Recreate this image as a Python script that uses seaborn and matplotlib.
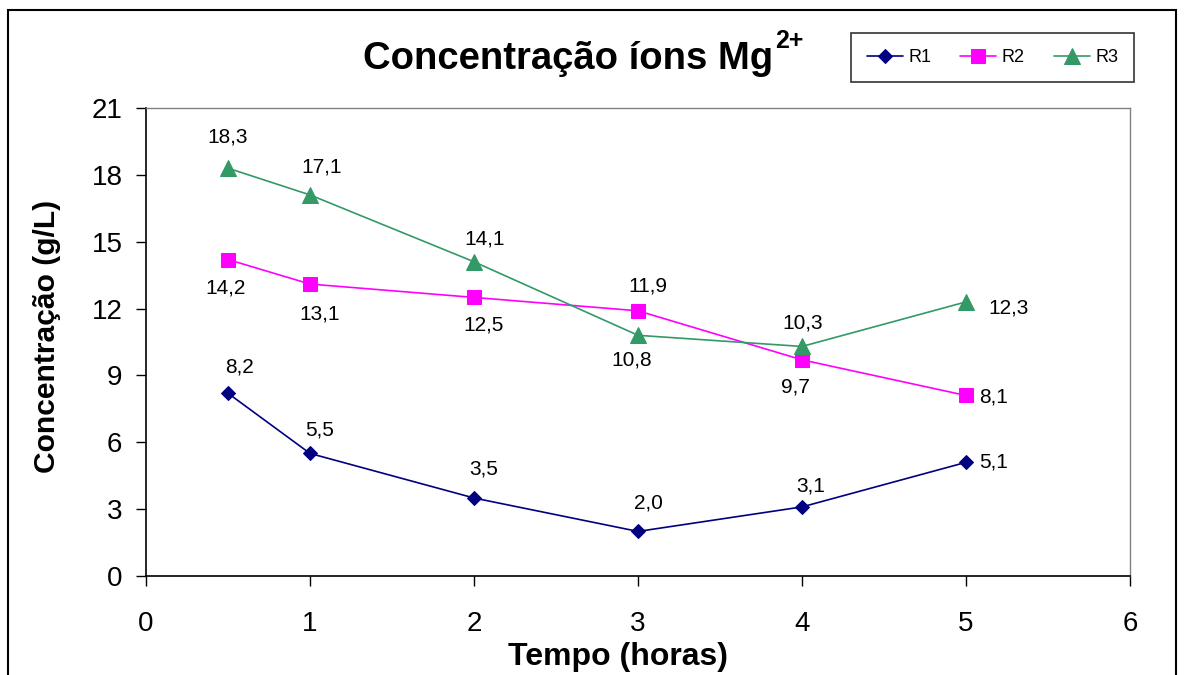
import matplotlib
matplotlib.use("Agg")
import matplotlib.pyplot as plt
import seaborn as sns
import pandas as pd
from matplotlib.patches import Rectangle

tempo = [0.5, 1, 2, 3, 4, 5]
r1 = [8.2, 5.5, 3.5, 2.0, 3.1, 5.1]
r2 = [14.2, 13.1, 12.5, 11.9, 9.7, 8.1]
r3 = [18.3, 17.1, 14.1, 10.8, 10.3, 12.3]
series_names = ["R1", "R2", "R3"]

sns.set_theme(style="white")
plt.rcParams['font.family'] = ['Liberation Sans', 'DejaVu Sans']
plt.rcParams['text.color'] = 'black'
plt.rcParams['axes.labelcolor'] = 'black'
plt.rcParams['xtick.color'] = 'black'
plt.rcParams['ytick.color'] = 'black'

fig = plt.figure(figsize=(11.86, 6.75), dpi=100)
ax = fig.add_axes([146/1186, 1-576/675, (1130-146)/1186, (576-108)/675])

df = pd.DataFrame({"Tempo": tempo * 3,
                   "Conc": r1 + r2 + r3,
                   "Serie": sum([[n]*len(tempo) for n in series_names], [])})

colors = {"R1": "#000080", "R2": "#FF00FF", "R3": "#339966"}
markers = {"R1": "D", "R2": "s", "R3": "^"}
msize = {"R1": 7, "R2": 10, "R3": 11}
for n in series_names:
    sub = df[df.Serie == n]
    sns.lineplot(data=sub, x="Tempo", y="Conc", ax=ax, color=colors[n], marker=markers[n],
                 markersize=msize[n], markeredgecolor=colors[n], linewidth=1.2, label=n)

# label offsets in pixels
offs = {
    "R1": [(12, 26), (10, 23), (10, 29), (10, 28), (9, 21), (28, 0)],
    "R2": [(-2, -28), (10, -30), (10, -28), (10, 25), (-7, -27), (28, -2)],
    "R3": [(0, 31), (12, 28), (11, 23), (-6, -25), (1, 23), (43, -6)],
}
vals = {"R1": r1, "R2": r2, "R3": r3}
for n in series_names:
    for x, y, (dx, dy) in zip(tempo, vals[n], offs[n]):
        ax.annotate(f"{y:.1f}".replace(".", ","), (x, y), xytext=(dx, dy),
                    textcoords="offset pixels", ha="center", va="center", fontsize=15, color="black")

ax.set_xlim(0, 6)
ax.set_ylim(0, 21)
ax.set_xticks(range(0, 7))
ax.set_yticks(range(0, 22, 3))
ax.tick_params(axis="both", labelsize=20, length=7, width=1, color="black", direction="out",
               bottom=True, left=True)
ax.tick_params(axis="x", pad=18)
ax.tick_params(axis="y", pad=10)
ax.set_xlabel("Tempo (horas)", fontsize=23, fontweight="bold")
ax.set_ylabel("Concentração (g/L)", fontsize=21.6, fontweight="bold")
ax.xaxis.set_label_coords((618 - 146) / (1130 - 146), -(657 - 576) / (576 - 108))
ax.xaxis.label.set_va("center")
ax.yaxis.set_label_coords(-(146 - 47) / (1130 - 146), (576 - 336) / (576 - 108))
ax.yaxis.label.set_va("center")
for s in ["left", "bottom"]:
    ax.spines[s].set_color("black")
    ax.spines[s].set_linewidth(1.2)
for s in ["top", "right"]:
    ax.spines[s].set_color("#808080")
    ax.spines[s].set_linewidth(1)

leg = ax.legend(loc="center", bbox_to_anchor=(847/1186, 1-82/675, (1138-847)/1186, (82-33)/675),
                bbox_transform=fig.transFigure, ncol=3, frameon=True, fancybox=False,
                edgecolor="black", fontsize=13, borderaxespad=0, handlelength=2.0,
                handletextpad=0.3, borderpad=0.9, columnspacing=1.6)
leg.get_frame().set_linewidth(1.2)

t = fig.text(363/1186, 1-69/675, "Concentração íons Mg", ha="left", va="baseline",
             fontsize=27.5, fontweight="bold")
fig.canvas.draw()
bb = t.get_window_extent()
fig.text(bb.x1/1186 + 2/1186, 1-48/675, "2+", ha="left", va="baseline", fontsize=18, fontweight="bold")

fig.add_artist(Rectangle((8/1186, -0.02), (1176-8)/1186, 1-10/675+0.02, transform=fig.transFigure,
                         fill=False, edgecolor="black", linewidth=1.5))

fig.savefig("out.png", dpi=100)
